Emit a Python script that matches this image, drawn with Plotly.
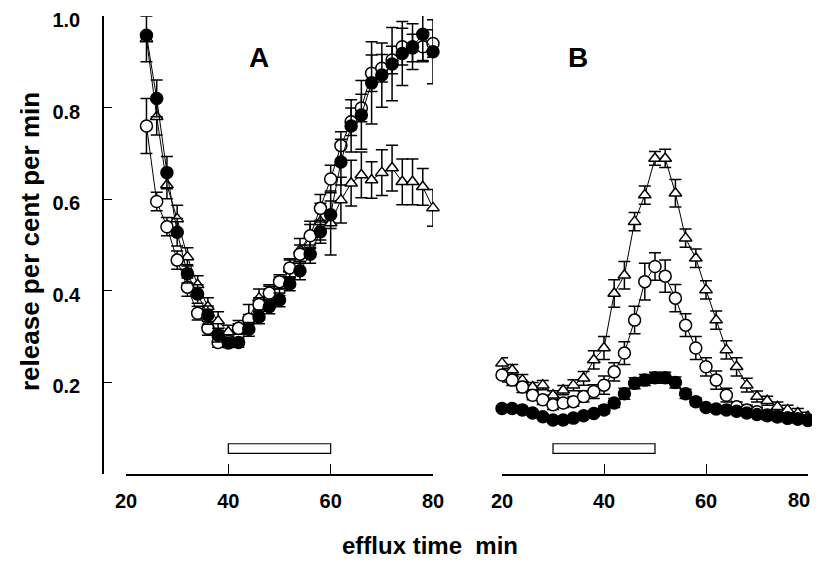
import plotly.graph_objects as go

# efflux time (min) for each panel
time_A = list(range(24, 81, 2))
time_B = list(range(20, 81, 2))

# Panel A - release per cent per min
filled_A = [0.958, 0.82, 0.658, 0.528, 0.437, 0.393, 0.347, 0.303, 0.286, 0.287,
            0.316, 0.343, 0.365, 0.38, 0.415, 0.444, 0.48, 0.529, 0.566, 0.681,
            0.76, 0.784, 0.854, 0.871, 0.895, 0.918, 0.933, 0.96, 0.922]
filled_A_err = [0.0, 0.04, 0.035, 0.03, 0.02, 0.02, 0.02, 0.015, 0.01, 0.01,
                0.015, 0.015, 0.015, 0.015, 0.015, 0.02, 0.02, 0.025, 0.03, 0.05,
                0.057, 0.075, 0.09, 0.07, 0.08, 0.07, 0.05, 0.06, 0.07]
open_A = [0.76, 0.595, 0.54, 0.467, 0.408, 0.351, 0.318, 0.287, 0.29, 0.318,
          0.338, 0.37, 0.395, 0.42, 0.45, 0.48, 0.52, 0.58, 0.644, 0.717,
          0.769, 0.799, 0.875, 0.886, 0.904, 0.933, 0.93, 0.933, 0.94]
open_A_err = [0.06, 0.02, 0.02, 0.02, 0.02, 0.015, 0.015, 0.01, 0.01, 0.01,
              0.01, 0.015, 0.015, 0.015, 0.02, 0.02, 0.025, 0.03, 0.03, 0.03,
              0.03, 0.03, 0.04, 0.03, 0.03, 0.04, 0.03, 0.03, 0.03]
tri_A = [0.95, 0.78, 0.631, 0.557, 0.474, 0.413, 0.365, 0.334, 0.31, 0.32,
         0.34, 0.384, 0.393, 0.41, 0.447, 0.489, 0.522, 0.551, 0.548, 0.598,
         0.635, 0.653, 0.642, 0.658, 0.668, 0.638, 0.638, 0.627, 0.581]
tri_A_err = [0.05, 0.04, 0.03, 0.03, 0.02, 0.02, 0.02, 0.02, 0.015, 0.015,
             0.03, 0.02, 0.02, 0.02, 0.02, 0.025, 0.03, 0.04, 0.07, 0.05,
             0.05, 0.05, 0.04, 0.05, 0.05, 0.05, 0.05, 0.04, 0.04]

# Panel B
filled_B = [0.143, 0.143, 0.14, 0.133, 0.125, 0.118, 0.118, 0.122, 0.127, 0.132,
            0.14, 0.155, 0.175, 0.198, 0.205, 0.21, 0.21, 0.2, 0.175, 0.158,
            0.145, 0.142, 0.14, 0.137, 0.133, 0.13, 0.127, 0.125, 0.122, 0.12, 0.117]
filled_B_err = [0.005, 0.005, 0.005, 0.005, 0.005, 0.005, 0.005, 0.005, 0.005, 0.005,
                0.008, 0.01, 0.012, 0.012, 0.012, 0.012, 0.012, 0.012, 0.01, 0.008,
                0.005, 0.005, 0.005, 0.005, 0.005, 0.005, 0.005, 0.005, 0.005, 0.005, 0.005]
open_B = [0.216, 0.205, 0.19, 0.172, 0.162, 0.151, 0.155, 0.158, 0.169, 0.18,
          0.194, 0.223, 0.264, 0.336, 0.42, 0.453, 0.432, 0.384, 0.325, 0.275,
          0.234, 0.205, 0.172, 0.147, 0.14, 0.136, 0.129, 0.125, 0.122, 0.12, 0.118]
open_B_err = [0.015, 0.012, 0.012, 0.01, 0.01, 0.01, 0.01, 0.01, 0.012, 0.015,
              0.02, 0.02, 0.025, 0.03, 0.04, 0.03, 0.035, 0.03, 0.025, 0.025,
              0.02, 0.02, 0.015, 0.01, 0.01, 0.01, 0.01, 0.008, 0.008, 0.008, 0.008]
tri_B = [0.242, 0.227, 0.205, 0.19, 0.194, 0.172, 0.183, 0.194, 0.209, 0.249,
         0.275, 0.394, 0.434, 0.551, 0.609, 0.689, 0.689, 0.613, 0.515, 0.471,
         0.402, 0.336, 0.271, 0.234, 0.194, 0.169, 0.16, 0.147, 0.14, 0.133, 0.125]
tri_B_err = [0.012, 0.012, 0.012, 0.01, 0.01, 0.01, 0.01, 0.012, 0.015, 0.02,
             0.025, 0.03, 0.03, 0.02, 0.02, 0.015, 0.02, 0.03, 0.02, 0.02,
             0.02, 0.02, 0.02, 0.02, 0.015, 0.012, 0.01, 0.01, 0.01, 0.01, 0.01]

# stimulation periods (min) shown as open bars under the curves
stim_A = (40, 60)
stim_B = (30, 50)

y_ticks = [0, 0.2, 0.4, 0.6, 0.8, 1.0]
y_labels = ["", "0.2", "0.4", "0.6", "0.8", "1.0"]
x_ticks = [20, 40, 60, 80]

FONT = "Liberation Sans, Arial, sans-serif"

# the page body adds an 8 px margin on every side, so the figure is drawn
# smaller and every target pixel position is shifted by that amount
OFF = 8
W, H = 820 - 2 * OFF, 568 - 2 * OFF
ML, MT = 103 - OFF, 16 - OFF
MR = W - (808 - OFF)
MB = H - (474 - OFF)
plot_w = W - ML - MR
plot_h = H - MT - MB


def px(xp):
    return (xp - OFF - ML) / plot_w


def py(yp):
    return (H - MB - (yp - OFF)) / plot_h


fig = go.Figure()


def add_series(x, y, err, symbol, fill, xaxis):
    fig.add_trace(go.Scatter(
        x=x, y=y, xaxis=xaxis, yaxis="y", mode="lines+markers", cliponaxis=False,
        line=dict(color="black", width=1),
        marker=dict(symbol=symbol, size=12 if "circle" in symbol else 11,
                    color=fill, line=dict(color="black", width=1.5)),
        error_y=dict(type="data", array=err, color="black", thickness=1.5, width=6),
        showlegend=False,
    ))


add_series(time_A, tri_A, tri_A_err, "triangle-up", "white", "x")
add_series(time_A, open_A, open_A_err, "circle", "white", "x")
add_series(time_A, filled_A, filled_A_err, "circle", "black", "x")
add_series(time_B, tri_B, tri_B_err, "triangle-up", "white", "x2")
add_series(time_B, open_B, open_B_err, "circle", "white", "x2")
add_series(time_B, filled_B, filled_B_err, "circle", "black", "x2")

for xref, (t0, t1) in (("x", stim_A), ("x2", stim_B)):
    fig.add_shape(type="rect", xref=xref, yref="y", x0=t0, x1=t1, y0=0.045, y1=0.066,
                  line=dict(color="black", width=1.2), fillcolor="white")

tick_font = dict(family=FONT, size=20, color="black", weight="bold")
xaxis_style = dict(range=[20, 80], ticks="inside", ticklen=10,
                   tickwidth=1.2, tickcolor="black", showline=True, linecolor="black",
                   linewidth=1.5, showgrid=False, zeroline=False, anchor="y",
                   ticklabelstandoff=8, automargin=False, ticklabeloverflow="allow",
                   tickfont=tick_font)


def label(text, x, y, size, angle=0):
    return dict(text=text, x=px(x), y=py(y), xref="paper", yref="paper",
                xanchor="center", yanchor="middle", showarrow=False, textangle=angle,
                font=dict(family=FONT, size=size, color="black", weight="bold"))


# the last tick label of panel B sits at the page edge; right-align it so it stays visible
last_B_label = dict(text=str(x_ticks[-1]), x=x_ticks[-1], xref="x2", y=0, yref="y",
                    xanchor="right", yanchor="top", xshift=4, yshift=-13,
                    showarrow=False, font=tick_font)

fig.update_layout(
    width=W, height=H,
    margin=dict(l=ML, r=MR, t=MT, b=MB, autoexpand=False),
    plot_bgcolor="white", paper_bgcolor="white",
    xaxis=dict(domain=[px(126), px(433)], tickvals=x_ticks, **xaxis_style),
    xaxis2=dict(domain=[px(502), 1.0], tickvals=x_ticks,
                ticktext=[str(t) for t in x_ticks[:-1]] + [""], **xaxis_style),
    yaxis=dict(range=[0, 1.0], tickvals=y_ticks, ticktext=y_labels, ticks="inside",
               ticklen=8, tickwidth=1.2, tickcolor="black", showline=True,
               linecolor="black", linewidth=1.5, showgrid=False, zeroline=False,
               anchor="free", position=0, ticklabelstandoff=18, ticklabelshift=4,
               automargin=False, ticklabeloverflow="allow", tickfont=tick_font),
    annotations=[
        label("A", 259, 57, 28),
        label("B", 578, 58, 28),
        label("release per cent per min", 30, 242, 26, -90),
        label("efflux time&nbsp;&nbsp;min", 430, 545, 24),
        last_B_label,
    ],
)

fig.write_html("out.html")
